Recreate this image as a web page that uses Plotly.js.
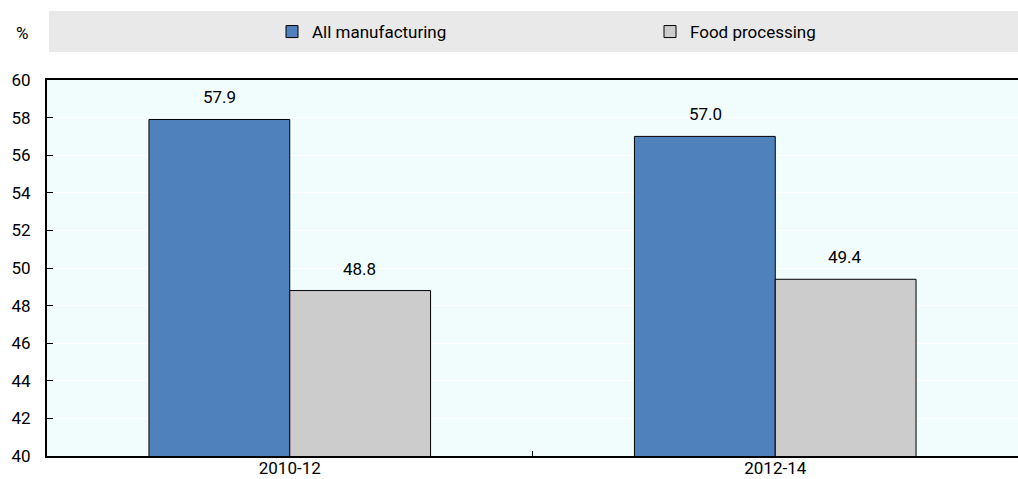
<!DOCTYPE html>
<html>
<head>
<meta charset="utf-8">
<script src="https://cdn.plot.ly/plotly-3.0.1.min.js"></script>
<style>html,body{margin:0;padding:0;background:#fff;}#chart{width:1018px;height:479px;}</style>
</head>
<body>
<div id="chart"></div>
<script>
const categories = ["2010-12", "2012-14"];
const allManufacturing = [57.9, 57.0];
const foodProcessing = [48.8, 49.4];
const seriesNames = ["All manufacturing", "Food processing"];
const yTicks = [40, 42, 44, 46, 48, 50, 52, 54, 56, 58, 60];

const FONT = '"Liberation Sans Narrow", "Arial Narrow", Roboto, "Liberation Sans", Arial, sans-serif';
const FS = 17;
const BAR_PX = 140;

const traces = [
  {type: 'bar', name: seriesNames[0], x: categories, y: allManufacturing,
   marker: {color: '#4f81bd', line: {color: '#000', width: 1}}, hoverinfo: 'none'},
  {type: 'bar', name: seriesNames[1], x: categories, y: foodProcessing,
   marker: {color: '#cccccc', line: {color: '#000', width: 1}}, hoverinfo: 'none'}
];

const annotations = [];
[allManufacturing, foodProcessing].forEach((vals, si) => {
  vals.forEach((v, i) => {
    annotations.push({x: categories[i], y: v, xref: 'x', yref: 'y', text: v.toFixed(1),
      showarrow: false, yanchor: 'bottom', yshift: 10, xshift: (si === 0 ? -1 : 1) * BAR_PX / 2,
      font: {family: FONT, size: FS, color: '#000'}});
  });
});
annotations.push({x: -25/971, xref: 'paper', y: 1 + 47/376, yref: 'paper', text: '%', showarrow: false,
  xanchor: 'center', yanchor: 'middle', font: {family: FONT, size: FS, color: '#000'}});

const layout = {
  width: 1018, height: 479,
  margin: {l: 47, r: 0, t: 80, b: 23, pad: 0, autoexpand: false},
  paper_bgcolor: '#ffffff', plot_bgcolor: '#f1fdfd',
  font: {family: FONT, size: FS, color: '#000'},
  barmode: 'group', bargap: 0.42, bargroupgap: 0,
  showlegend: true,
  legend: {orientation: 'h', x: (272 - 47) / 971, xanchor: 'left', y: 1 + 48/376, yanchor: 'middle',
    bgcolor: 'rgba(0,0,0,0)', borderwidth: 0, entrywidth: 333, entrywidthmode: 'pixels',
    font: {family: FONT, size: FS, color: '#000'}, traceorder: 'normal'},
  shapes: [{type: 'rect', xref: 'paper', yref: 'paper', x0: 2/971, x1: 1, y0: 1 + 28/376, y1: 1 + 69/376,
    fillcolor: '#e9e9e9', line: {width: 0}, layer: 'below'}],
  xaxis: {type: 'category', showline: true, linecolor: '#000', linewidth: 2, mirror: true,
    ticks: 'inside', tickson: 'boundaries', ticklen: 5, tickcolor: '#000', showgrid: false,
    tickfont: {family: FONT, size: FS, color: '#000'}, ticklabelstandoff: -4, fixedrange: true},
  yaxis: {range: [40, 60], tickvals: yTicks, ticks: 'inside', ticklen: 6, tickcolor: '#000',
    showline: true, linecolor: '#000', linewidth: 2, showgrid: true, gridcolor: '#ffffff', gridwidth: 1,
    zeroline: false, tickfont: {family: FONT, size: FS, color: '#000'}, ticklabelstandoff: 11, fixedrange: true},
  annotations: annotations
};

Plotly.newPlot('chart', traces, layout, {displayModeBar: false, staticPlot: true});
</script>
</body>
</html>
